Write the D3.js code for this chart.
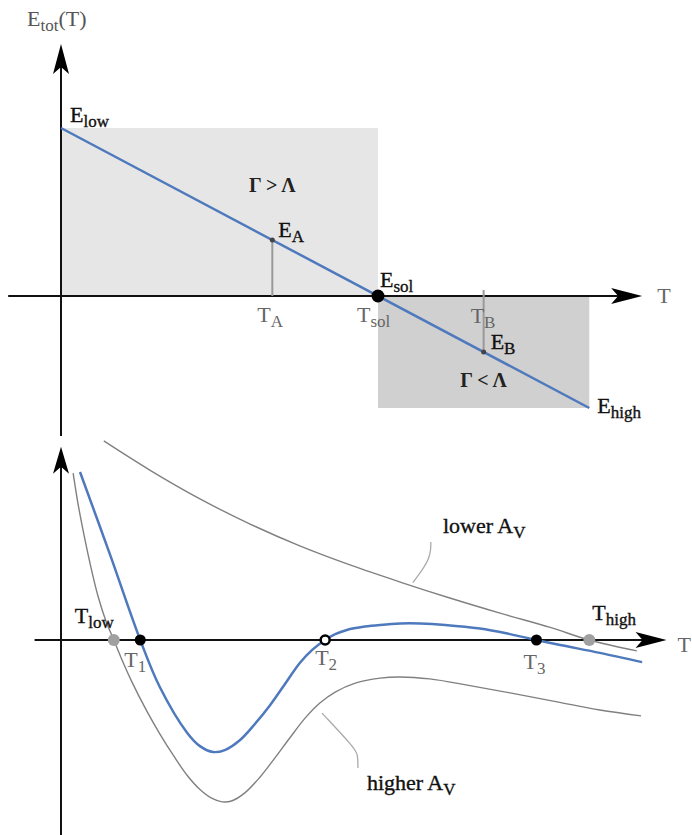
<!DOCTYPE html>
<html>
<head>
<meta charset="utf-8">
<script src="https://cdn.jsdelivr.net/npm/d3@7"></script>
<style>
  html, body { margin: 0; padding: 0; background: #fff; }
  svg { display: block; }
  text { font-family: "Liberation Serif", "DejaVu Serif", serif; }
</style>
</head>
<body>
<script>
// ---------- DATA ----------
// Top panel: total energy line E_tot(T)
const lineT = [0, 10];
const lineE = [6, -4];          // E_low, E_high
const markNames = ["A", "sol", "B"];
const markT = [4, 6, 8];
const markE = [2, 0, -2];
const regionTStart = [0, 6];
const regionTEnd = [6, 10];
const regionETop = [6, 0];
const regionEBottom = [0, -4];

// Bottom panel: curves
const blueT = [0.36, 0.93, 1.5, 1.87, 2.39, 2.63, 2.88, 3.10, 3.39, 3.67, 3.96, 4.24, 4.52, 4.75, 5.0, 5.19, 5.41, 5.75, 6.04, 6.42, 6.80, 7.27, 7.93, 8.50, 9.0, 9.45, 10.2, 11.0];
const blueE = [6.0, 3.04, 0, -1.68, -3.32, -3.79, -4.0, -3.93, -3.57, -3.0, -2.32, -1.57, -0.82, -0.36, 0, 0.21, 0.36, 0.48, 0.54, 0.59, 0.59, 0.54, 0.41, 0.21, 0, -0.18, -0.46, -0.79];
const higherT = [0.23, 0.32, 0.44, 0.57, 0.70, 0.85, 1.0, 1.17, 1.33, 1.63, 1.87, 2.14, 2.39, 2.63, 2.86, 3.05, 3.24, 3.48, 3.77, 4.05, 4.33, 4.62, 4.90, 5.19, 5.57, 6.04, 6.42, 6.98, 7.69, 8.50, 9.39, 10.2, 10.98];
const higherE = [5.96, 4.89, 3.71, 2.57, 1.57, 0.68, 0, -0.78, -1.45, -2.56, -3.35, -4.16, -4.84, -5.34, -5.66, -5.78, -5.74, -5.46, -4.89, -4.21, -3.5, -2.79, -2.25, -1.86, -1.54, -1.36, -1.32, -1.39, -1.61, -1.89, -2.21, -2.5, -2.71];
const lowerT = [0.81, 1.68, 2.63, 3.58, 4.52, 5.47, 6.42, 7.36, 8.31, 9.26, 10.0, 10.9];
const lowerE = [7.11, 6.07, 5.04, 4.14, 3.36, 2.68, 2.07, 1.5, 0.96, 0.45, 0, -0.39];
const rootNames = ["low", "1", "2", "3", "high"];
const rootT = [1, 1.5, 5, 9, 10];
const rootKind = ["gray", "stable", "unstable", "stable", "gray"];
const calloutLowerT = [6.66, 7.0, 7.0];
const calloutLowerE = [2.05, 2.9, 3.5];
const calloutHigherT = [4.94, 5.56, 5.62, 5.62];
const calloutHigherE = [-2.61, -3.86, -4.1, -4.57];

// ---------- SETUP ----------
const W = 692, H = 835;
const svg = d3.select("body").append("svg").attr("width", W).attr("height", H);

const x = d3.scaleLinear().domain([0, 10]).range([61, 589.3]);
const yTop = d3.scaleLinear().domain([-4, 6]).range([408, 128]);
const yBot = d3.scaleLinear().domain([-4, 6]).range([752, 472]);

const BLUE = "#4f79bd";
const MAIN = 22, SUB = 17;

function label(g, px, py, main, sub, opts = {}) {
  const col = opts.color || "#111";
  const t = g.append("text").attr("x", px).attr("y", py)
    .attr("fill", col)
    .attr("stroke", col).attr("stroke-width", opts.color ? 0 : 0.35)
    .attr("font-size", MAIN)
    .attr("text-anchor", opts.anchor || "start");
  t.append("tspan").text(main);
  if (sub) t.append("tspan").attr("font-size", SUB).attr("dy", 5).text(sub);
  if (opts.after) t.append("tspan").attr("dy", -5).text(opts.after);
  return t;
}

function arrowRight(g, tipX, y, len, half) {
  const p = d3.path();
  p.moveTo(tipX, y);
  p.lineTo(tipX - len, y - half);
  p.lineTo(tipX - len + 7, y);
  p.lineTo(tipX - len, y + half);
  p.closePath();
  g.append("path").attr("d", p.toString()).attr("fill", "#000");
}
function arrowUp(g, xx, tipY, len, half) {
  const p = d3.path();
  p.moveTo(xx, tipY);
  p.lineTo(xx - half, tipY + len);
  p.lineTo(xx, tipY + len - 7);
  p.lineTo(xx + half, tipY + len);
  p.closePath();
  g.append("path").attr("d", p.toString()).attr("fill", "#000");
}

// ---------- TOP PANEL ----------
const topG = svg.append("g");
const regionFill = ["#e6e6e6", "#d0d0d0"];
regionTStart.forEach((t0, i) => {
  topG.append("rect")
    .attr("x", x(t0)).attr("y", yTop(regionETop[i]))
    .attr("width", x(regionTEnd[i]) - x(t0))
    .attr("height", yTop(regionEBottom[i]) - yTop(regionETop[i]))
    .attr("fill", regionFill[i]);
});

// axes
topG.append("line").attr("x1", x(-1)).attr("x2", x(11) - 10)
  .attr("y1", yTop(0)).attr("y2", yTop(0)).attr("stroke", "#111").attr("stroke-width", 2);
arrowRight(topG, x(11), yTop(0), 31, 8);
topG.append("line").attr("x1", x(0)).attr("x2", x(0))
  .attr("y1", yTop(9) + 10).attr("y2", yTop(-5)).attr("stroke", "#111").attr("stroke-width", 2);
arrowUp(topG, x(0), yTop(9), 30, 8);

// guide lines to T_A, T_B
topG.append("line").attr("x1", x(markT[0])).attr("x2", x(markT[0]))
  .attr("y1", yTop(markE[0])).attr("y2", yTop(0)).attr("stroke", "#999").attr("stroke-width", 2);
topG.append("line").attr("x1", x(markT[2])).attr("x2", x(markT[2]))
  .attr("y1", yTop(0) - 6).attr("y2", yTop(markE[2])).attr("stroke", "#999").attr("stroke-width", 2);

// energy line
const topLine = d3.line().x(d => x(d[0])).y(d => yTop(d[1]));
topG.append("path").attr("d", topLine(lineT.map((t, i) => [t, lineE[i]])))
  .attr("fill", "none").attr("stroke", BLUE).attr("stroke-width", 2.5);

// points
topG.append("circle").attr("cx", x(markT[0])).attr("cy", yTop(markE[0])).attr("r", 2.5).attr("fill", "#444");
topG.append("circle").attr("cx", x(markT[2])).attr("cy", yTop(markE[2])).attr("r", 2.5).attr("fill", "#444");
topG.append("circle").attr("cx", x(markT[1])).attr("cy", yTop(markE[1])).attr("r", 6.5).attr("fill", "#000");

// labels
label(topG, 27, 26, "E", "tot", { color: "#555", after: "(T)" });
label(topG, x(11) + 15, yTop(0) + 7, "T", null, { color: "#666" });
label(topG, x(lineT[0]) + 9, yTop(lineE[0]) - 6, "E", "low");
label(topG, x(lineT[1]) + 8, yTop(lineE[1]) + 5, "E", "high");
label(topG, x(markT[0]) + 6, yTop(markE[0]) - 3, "E", markNames[0]);
label(topG, x(markT[1]) + 2, yTop(markE[1]) - 9, "E", markNames[1]);
label(topG, x(markT[2]) + 7, yTop(markE[2]) - 3, "E", markNames[2]);
label(topG, x(markT[0]) - 15, yTop(0) + 26, "T", markNames[0], { color: "#666" });
label(topG, x(markT[1]) - 21, yTop(0) + 26, "T", markNames[1], { color: "#666" });
label(topG, x(markT[2]) - 13, yTop(0) + 27, "T", markNames[2], { color: "#666" });
topG.append("text").attr("x", x(markT[0])).attr("y", 192).attr("text-anchor", "middle")
  .attr("font-size", 20).attr("font-weight", "bold").attr("fill", "#222").text("Γ > Λ");
topG.append("text").attr("x", x(markT[2])).attr("y", 387).attr("text-anchor", "middle")
  .attr("font-size", 20).attr("font-weight", "bold").attr("fill", "#222").text("Γ < Λ");

// ---------- BOTTOM PANEL ----------
const botG = svg.append("g");
botG.append("line").attr("x1", x(-0.5)).attr("x2", x(11.5) - 10)
  .attr("y1", yBot(0)).attr("y2", yBot(0)).attr("stroke", "#111").attr("stroke-width", 2);
arrowRight(botG, x(11.5) - 2, yBot(0), 31, 8);
botG.append("line").attr("x1", x(0)).attr("x2", x(0))
  .attr("y1", yBot(6.9) + 10).attr("y2", H).attr("stroke", "#111").attr("stroke-width", 2);
arrowUp(botG, x(0), yBot(6.9), 27, 8);

const curve = d3.line().x(d => x(d[0])).y(d => yBot(d[1])).curve(d3.curveCatmullRom.alpha(0.5));
const zip = (a, b) => a.map((v, i) => [v, b[i]]);

botG.append("path").attr("d", curve(zip(lowerT, lowerE)))
  .attr("fill", "none").attr("stroke", "#808080").attr("stroke-width", 1.4);
botG.append("path").attr("d", curve(zip(higherT, higherE)))
  .attr("fill", "none").attr("stroke", "#808080").attr("stroke-width", 1.4);
botG.append("path").attr("d", curve(zip(blueT, blueE)))
  .attr("fill", "none").attr("stroke", BLUE).attr("stroke-width", 2.5);

const callout = d3.line().x(d => x(d[0])).y(d => yBot(d[1])).curve(d3.curveBasis);
botG.append("path").attr("d", callout(zip(calloutLowerT, calloutLowerE)))
  .attr("fill", "none").attr("stroke", "#aaa").attr("stroke-width", 1.3);
botG.append("path").attr("d", callout(zip(calloutHigherT, calloutHigherE)))
  .attr("fill", "none").attr("stroke", "#aaa").attr("stroke-width", 1.3);

// roots
rootT.forEach((t, i) => {
  const k = rootKind[i];
  const c = botG.append("circle").attr("cx", x(t)).attr("cy", yBot(0));
  if (k === "gray") c.attr("r", 6).attr("fill", "#a0a0a0");
  else if (k === "stable") c.attr("r", 5.5).attr("fill", "#000");
  else c.attr("r", 4.5).attr("fill", "#fff").attr("stroke", "#000").attr("stroke-width", 2.5);
});

// root labels
label(botG, x(rootT[0]) - 39, yBot(0) - 17, "T", rootNames[0]);
label(botG, x(rootT[1]) - 16, yBot(0) + 27, "T", rootNames[1], { color: "#666" });
label(botG, x(rootT[2]) - 10, yBot(0) + 25, "T", rootNames[2], { color: "#666" });
label(botG, x(rootT[3]) - 13, yBot(0) + 29, "T", rootNames[3], { color: "#666" });
label(botG, x(rootT[4]) + 3, yBot(0) - 20, "T", rootNames[4]);
label(botG, x(11.5) + 9, yBot(0) + 12, "T", null, { color: "#666" });

label(botG, x(7.23), yBot(3.82), "lower A", "V");
label(botG, x(5.79), yBot(-5.36), "higher A", "V");
</script>
</body>
</html>
